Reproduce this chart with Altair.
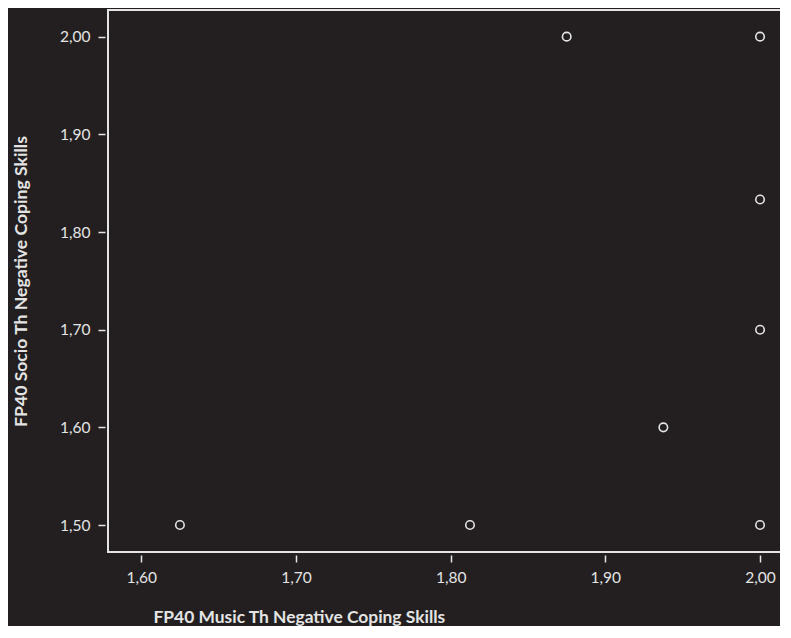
import altair as alt
import pandas as pd

music = [1.625, 1.8125, 1.875, 1.9375, 2.0, 2.0, 2.0, 2.0]
socio = [1.5, 1.5, 2.0, 1.6, 2.0, 1.8333, 1.7, 1.5]
x_ticks = [1.6, 1.7, 1.8, 1.9, 2.0]
y_ticks = [1.5, 1.6, 1.7, 1.8, 1.9, 2.0]

df = pd.DataFrame({"music": music, "socio": socio})

BG = "#231f20"
FG = "#e4e4e4"
FONT = "Lato"
W, H = 672, 542
fmt = "replace(format(datum.value, '.2f'), '.', ',')"

points = alt.Chart(df).mark_point(
    shape="circle", filled=False, color=FG, size=72, strokeWidth=1.6, opacity=1
).encode(
    x=alt.X("music:Q", scale=alt.Scale(domain=[1.5785, 2.0129], nice=False, zero=False),
            axis=alt.Axis(title="FP40 Music Th Negative Coping Skills", values=x_ticks,
                          labelExpr=fmt, grid=False, domain=False, offset=3,
                          tickSize=7, tickWidth=1.5, tickColor=FG,
                          labelPadding=8, labelFontSize=15.5, labelColor=FG, labelFont=FONT,
                          titleFont=FONT, titleFontSize=17.4, titleFontWeight="bold", titleColor=FG,
                          titleX=45, titleY=67, titleAlign="left", titleBaseline="alphabetic")),
    y=alt.Y("socio:Q", scale=alt.Scale(domain=[1.4724, 2.0273], nice=False, zero=False),
            axis=alt.Axis(title="FP40 Socio Th Negative Coping Skills", values=y_ticks,
                          labelExpr=fmt, grid=False, domain=False, offset=3,
                          tickSize=7, tickWidth=1.5, tickColor=FG,
                          labelPadding=8, labelFontSize=15.5, labelColor=FG, labelFont=FONT,
                          titleFont=FONT, titleFontSize=17.6, titleFontWeight="bold", titleColor=FG,
                          titleX=-84, titleBaseline="middle")),
)

one = alt.Data(values=[{}])
frame_left = alt.Chart(one).mark_rule(color=FG, strokeWidth=2).encode(
    x=alt.value(0), y=alt.value(-1), y2=alt.value(H + 1))
frame_bottom = alt.Chart(one).mark_rule(color=FG, strokeWidth=2).encode(
    x=alt.value(-1), x2=alt.value(W), y=alt.value(H))
frame_top = alt.Chart(one).mark_rule(color=FG, strokeWidth=2).encode(
    x=alt.value(-1), x2=alt.value(W), y=alt.value(0))

chart = alt.layer(frame_left, frame_bottom, frame_top, points).properties(
    width=W, height=H,
    autosize=alt.AutoSizeParams(type="none"),
    padding={"left": 100, "top": 2, "right": 0, "bottom": 74},
    background=BG,
).configure_view(stroke=None)

chart.save("out.html", embed_options={"renderer": "svg", "actions": False})
